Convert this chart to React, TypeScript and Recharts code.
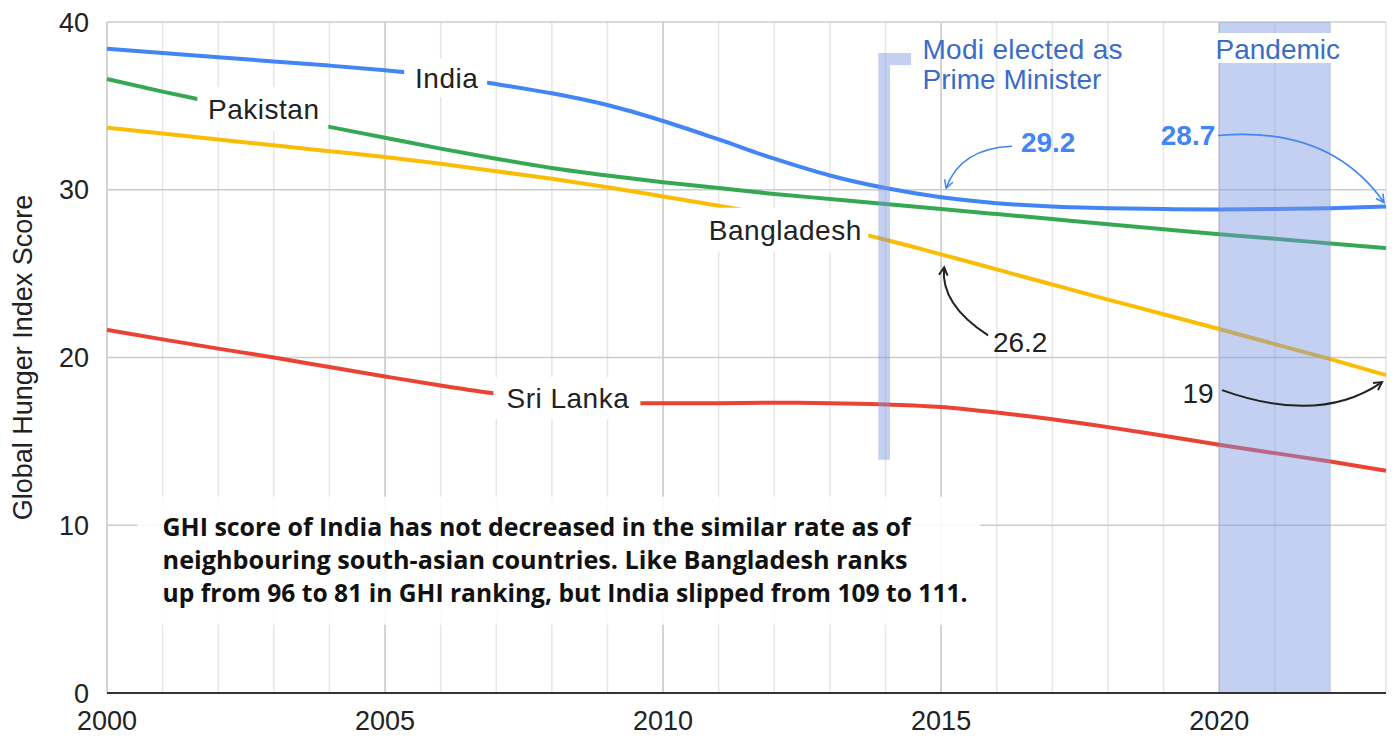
import React from "react";
import {
  LineChart,
  Line,
  XAxis,
  YAxis,
  CartesianGrid,
  ReferenceArea,
  ReferenceDot,
} from "recharts";

const years = [
  2000, 2001, 2002, 2003, 2004, 2005, 2006, 2007, 2008, 2009, 2010, 2011,
  2012, 2013, 2014, 2015, 2016, 2017, 2018, 2019, 2020, 2021, 2022, 2023,
];
const india = [
  38.4, 38.15, 37.9, 37.65, 37.4, 37.12, 36.78, 36.3, 35.75, 35.05, 34.1, 33.0,
  31.85, 30.85, 30.1, 29.55, 29.2, 29.0, 28.9, 28.85, 28.83, 28.85, 28.9, 29.0,
];
const pakistan = [
  36.6, 35.85, 35.15, 34.45, 33.75, 33.1, 32.45, 31.85, 31.3, 30.85, 30.45,
  30.1, 29.75, 29.45, 29.15, 28.85, 28.55, 28.25, 27.95, 27.65, 27.35, 27.08,
  26.8, 26.52,
];
const bangladesh = [
  33.7, 33.35, 33.0, 32.65, 32.3, 31.95, 31.55, 31.1, 30.65, 30.15, 29.6,
  29.05, 28.45, 27.8, 27.02, 26.15, 25.25, 24.35, 23.45, 22.58, 21.7, 20.8,
  19.9, 18.95,
];
const sriLanka = [
  21.65, 21.08, 20.53, 20.0, 19.43, 18.87, 18.33, 17.85, 17.52, 17.32, 17.27,
  17.28, 17.3, 17.28, 17.2, 17.05, 16.72, 16.32, 15.85, 15.33, 14.8, 14.3,
  13.8, 13.25,
];
const xTicks = [2000, 2005, 2010, 2015, 2020];
const yTicks = [0, 10, 20, 30, 40];
const noteLines = [
  "GHI score of India has not decreased in the similar rate as of",
  "neighbouring south-asian countries. Like Bangladesh ranks",
  "up from 96 to 81 in GHI ranking, but India slipped from 109 to 111.",
];
const noteWidths = [748, 745, 805];

const data = years.map((year, i) => ({
  year,
  india: india[i],
  pakistan: pakistan[i],
  bangladesh: bangladesh[i],
  sriLanka: sriLanka[i],
}));

const FONT = "'Liberation Sans', Arial, sans-serif";
const NOTE_BLUE = "#3b6cc6";

// white boxed series name sitting on the line
const boxLabel =
  (text: string, dx: number, dy: number, w: number, h: number) =>
  (p: any) => (
    <g>
      <rect
        x={p.cx + dx - w / 2}
        y={p.cy + dy - h / 2}
        width={w}
        height={h}
        fill="#fff"
      />
      <text
        x={p.cx + dx + 1}
        y={p.cy + dy + 10}
        textAnchor="middle"
        fontSize={28}
        letterSpacing={0.5}
        fill="#222"
        fontFamily={FONT}
      >
        {text}
      </text>
    </g>
  );

// curved arrow with a value text, offsets relative to the data point
const arrowNote =
  (
    text: string,
    tx: number,
    ty: number,
    s: [number, number],
    c: [number, number],
    t: [number, number],
    color: string,
    bold: boolean
  ) =>
  (p: any) => {
    const x0 = p.cx + s[0];
    const y0 = p.cy + s[1];
    const x1 = p.cx + c[0];
    const y1 = p.cy + c[1];
    const x2 = p.cx + t[0];
    const y2 = p.cy + t[1];
    const ang = Math.atan2(y2 - y1, x2 - x1);
    const len = 9;
    const a1 = ang + Math.PI - 0.5;
    const a2 = ang + Math.PI + 0.5;
    return (
      <g>
        <path
          d={`M${x0},${y0} Q${x1},${y1} ${x2},${y2}`}
          fill="none"
          stroke={color}
          strokeWidth={bold ? 1.6 : 2}
        />
        <path
          d={`M${x2 + len * Math.cos(a1)},${y2 + len * Math.sin(a1)} L${x2},${y2} L${
            x2 + len * Math.cos(a2)
          },${y2 + len * Math.sin(a2)}`}
          fill="none"
          stroke={color}
          strokeWidth={bold ? 1.6 : 2}
        />
        <text
          x={p.cx + tx}
          y={p.cy + ty + 10}
          textAnchor="middle"
          fontSize={28}
          fontWeight={bold ? 700 : 400}
          fill={color}
          fontFamily={FONT}
        >
          {text}
        </text>
      </g>
    );
  };

const modiNote = (p: any) => (
  <g fontFamily={FONT} fontSize={28} fill={NOTE_BLUE}>
    <text x={p.cx + 37} y={p.cy + 37} textLength={200} lengthAdjust="spacing">
      Modi elected as
    </text>
    <text x={p.cx + 37} y={p.cy + 67}>
      Prime Minister
    </text>
  </g>
);

const pandemicNote = (p: any) => (
  <g>
    <rect x={p.cx - 65} y={p.cy + 11} width={135} height={30} fill="#fff" />
    <text
      x={p.cx + 3}
      y={p.cy + 37}
      textAnchor="middle"
      fontSize={28}
      fill={NOTE_BLUE}
      fontFamily={FONT}
    >
      Pandemic
    </text>
  </g>
);

const textBlock = (p: any) => (
  <g>
    <rect x={p.cx} y={p.cy} width={843} height={128} fill="#fff" fillOpacity={0.88} />
    {noteLines.map((line, i) => (
      <text
        key={i}
        x={p.cx + 25}
        y={p.cy + 39 + i * 33}
        fontSize={25}
        fontWeight={700}
        fill="#111"
        fontFamily="'Open Sans', 'Noto Sans', sans-serif"
        textLength={noteWidths[i]}
        lengthAdjust="spacingAndGlyphs"
      >
        {line}
      </text>
    ))}
  </g>
);

export default function App() {
  return (
    <div style={{ position: "absolute", left: 0, top: 0, width: 1399, height: 740, background: "#fff" }}>
      <LineChart
        width={1399}
        height={740}
        data={data}
        margin={{ top: 22, right: 13, bottom: 0, left: 0 }}
      >
        <CartesianGrid
          horizontal={false}
          verticalValues={years}
          stroke="#e6e6e6"
          strokeWidth={1.5}
        />
        <CartesianGrid
          horizontal={false}
          verticalValues={xTicks}
          stroke="#cccccc"
          strokeWidth={1.5}
        />
        <CartesianGrid vertical={false} stroke="#cccccc" strokeWidth={1.5} />
        <XAxis
          dataKey="year"
          type="number"
          domain={[2000, 2023]}
          ticks={xTicks}
          height={47}
          tickLine={false}
          tickSize={0}
          tickMargin={18}
          axisLine={{ stroke: "#333", strokeWidth: 2 }}
          tick={{ fontSize: 27, fill: "#222", fontFamily: FONT }}
        />
        <YAxis
          domain={[0, 40]}
          ticks={yTicks}
          width={107}
          axisLine={false}
          tickLine={false}
          tickSize={0}
          tickMargin={18}
          tick={{ fontSize: 27, fill: "#222", fontFamily: FONT }}
          label={{
            value: "Global Hunger Index Score",
            angle: -90,
            position: "insideLeft",
            offset: 22,
            style: { textAnchor: "middle", fontSize: 27, fill: "#222", fontFamily: FONT },
          }}
        />
        <Line dataKey="sriLanka" type="monotone" stroke="#EA4335" strokeWidth={4} dot={false} isAnimationActive={false} />
        <Line dataKey="bangladesh" type="monotone" stroke="#FBBC04" strokeWidth={4} dot={false} isAnimationActive={false} />
        <Line dataKey="pakistan" type="monotone" stroke="#34A853" strokeWidth={4} dot={false} isAnimationActive={false} />
        <Line dataKey="india" type="monotone" stroke="#4285F4" strokeWidth={4} dot={false} isAnimationActive={false} />

        <ReferenceArea x1={2020} x2={2022} y1={0} y2={40} fill="#7b96e0" fillOpacity={0.45} stroke="none" zIndex={450} />
        <ReferenceArea x1={2013.87} x2={2014.08} y1={13.9} y2={38.15} fill="#7b96e0" fillOpacity={0.45} stroke="none" zIndex={450} />
        <ReferenceArea x1={2014.08} x2={2014.46} y1={37.43} y2={38.15} fill="#7b96e0" fillOpacity={0.45} stroke="none" zIndex={450} />

        <ReferenceDot x={2000.55} y={11.7} shape={textBlock} zIndex={1500} />
        <ReferenceDot x={years[6]} y={india[6]} shape={boxLabel("India", 5, 2, 83, 38)} zIndex={1500} />
        <ReferenceDot x={years[3]} y={pakistan[3]} shape={boxLabel("Pakistan", -11, -6, 131, 44)} zIndex={1500} />
        <ReferenceDot x={years[12]} y={bangladesh[12]} shape={boxLabel("Bangladesh", 10, 14, 168, 44)} zIndex={1500} />
        <ReferenceDot x={years[8]} y={sriLanka[8]} shape={boxLabel("Sri Lanka", 15, -1, 147, 42)} zIndex={1500} />
        <ReferenceDot x={2014} y={40} shape={modiNote} zIndex={1500} />
        <ReferenceDot x={2021} y={40} shape={pandemicNote} zIndex={1500} />
        <ReferenceDot
          x={years[15]}
          y={india[15]}
          shape={arrowNote("29.2", 107, -55, [71, -51], [19, -49], [5, -9], "#4285F4", true)}
          zIndex={1500}
        />
        <ReferenceDot
          x={years[23]}
          y={india[23]}
          shape={arrowNote("28.7", -198, -72, [-168, -71], [-56, -81], [-2, -4], "#4285F4", true)}
          zIndex={1500}
        />
        <ReferenceDot
          x={years[15]}
          y={bangladesh[15]}
          shape={arrowNote("26.2", 79, 88, [47, 81], [-1, 50], [3, 13], "#222", false)}
          zIndex={1500}
        />
        <ReferenceDot
          x={years[23]}
          y={bangladesh[23]}
          shape={arrowNote("19", -188, 18, [-164, 15], [-66, 50], [-4, 7], "#222", false)}
          zIndex={1500}
        />
      </LineChart>
    </div>
  );
}
